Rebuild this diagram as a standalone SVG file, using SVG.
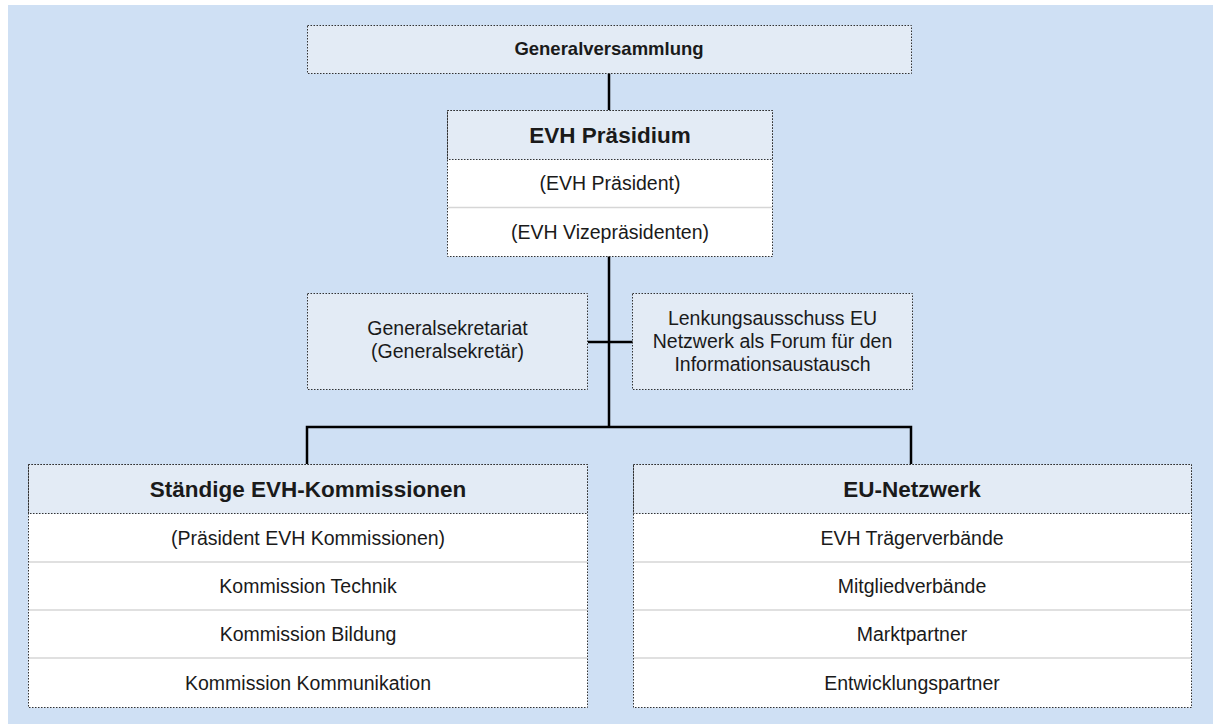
<svg xmlns="http://www.w3.org/2000/svg" width="1213" height="724" viewBox="0 0 1213 724">
<style>
.bg{fill:#cfe0f4}
.hdr{fill:#e3ebf5;stroke:#333333;stroke-width:1;stroke-dasharray:1.5 1.5}
.row{fill:#ffffff}
.frame{fill:none;stroke:#333333;stroke-width:1;stroke-dasharray:1.5 1.5}
.sep{stroke:#d6d6d6;stroke-width:1.5}
.conn{stroke:#000;stroke-width:2.5;fill:none}
text{font-family:"Liberation Sans",Arial,sans-serif;text-anchor:middle;fill:#1a1a1a}
.b22{font-size:22.5px;font-weight:bold}
.b18{font-size:18.5px;font-weight:bold}
.r19{font-size:19.5px}
</style>
<rect x="0" y="0" width="1213" height="724" fill="#ffffff"/>
<rect class="bg" x="8" y="5" width="1205" height="719"/>

<g id="connectors">
<line class="conn" x1="609" y1="73" x2="609" y2="110"/>
<line class="conn" x1="609" y1="256" x2="609" y2="427"/>
<line class="conn" x1="588" y1="342" x2="633" y2="342"/>
<polyline class="conn" points="307,464 307,427 911,427 911,464"/>
</g>

<g id="generalversammlung">
<rect class="hdr" x="307.5" y="25.5" width="604" height="48"/>
<text class="b18" x="609" y="55">Generalversammlung</text>
</g>

<g id="praesidium">
<rect class="row" x="447.5" y="159.5" width="325" height="97"/>
<line class="sep" x1="448" y1="207.5" x2="772" y2="207.5"/>
<rect class="hdr" x="447.5" y="110.5" width="325" height="49"/>
<rect class="frame" x="447.5" y="110.5" width="325" height="146"/>
<text class="b22" x="610" y="143">EVH Präsidium</text>
<text class="r19" x="610" y="190">(EVH Präsident)</text>
<text class="r19" x="610" y="239">(EVH Vizepräsidenten)</text>
</g>

<g id="generalsekretariat">
<rect class="hdr" x="307.5" y="293.5" width="280" height="96"/>
<text class="r19" x="447.5" y="335">Generalsekretariat</text>
<text class="r19" x="447.5" y="358">(Generalsekretär)</text>
</g>

<g id="lenkungsausschuss">
<rect class="hdr" x="632.5" y="293.5" width="280" height="96"/>
<text class="r19" x="772.5" y="325">Lenkungsausschuss EU</text>
<text class="r19" x="772.5" y="348">Netzwerk als Forum für den</text>
<text class="r19" x="772.5" y="371">Informationsaustausch</text>
</g>

<g id="kommissionen">
<rect class="row" x="28.5" y="513.5" width="559" height="194"/>
<line class="sep" x1="29" y1="562" x2="587" y2="562"/>
<line class="sep" x1="29" y1="610" x2="587" y2="610"/>
<line class="sep" x1="29" y1="658" x2="587" y2="658"/>
<rect class="hdr" x="28.5" y="464.5" width="559" height="49"/>
<rect class="frame" x="28.5" y="464.5" width="559" height="243"/>
<text class="b22" x="308" y="497">Ständige EVH-Kommissionen</text>
<text class="r19" x="308" y="545">(Präsident EVH Kommissionen)</text>
<text class="r19" x="308" y="593">Kommission Technik</text>
<text class="r19" x="308" y="641">Kommission Bildung</text>
<text class="r19" x="308" y="690">Kommission Kommunikation</text>
</g>

<g id="eu-netzwerk">
<rect class="row" x="633.5" y="513.5" width="558" height="194"/>
<line class="sep" x1="634" y1="562" x2="1191" y2="562"/>
<line class="sep" x1="634" y1="610" x2="1191" y2="610"/>
<line class="sep" x1="634" y1="658" x2="1191" y2="658"/>
<rect class="hdr" x="633.5" y="464.5" width="558" height="49"/>
<rect class="frame" x="633.5" y="464.5" width="558" height="243"/>
<text class="b22" x="912" y="497">EU-Netzwerk</text>
<text class="r19" x="912" y="545">EVH Trägerverbände</text>
<text class="r19" x="912" y="593">Mitgliedverbände</text>
<text class="r19" x="912" y="641">Marktpartner</text>
<text class="r19" x="912" y="690">Entwicklungspartner</text>
</g>
</svg>
